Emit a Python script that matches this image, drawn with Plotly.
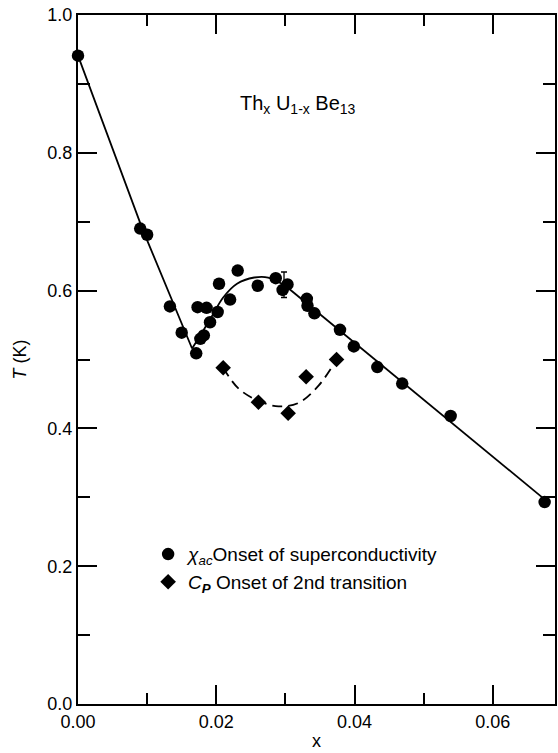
import plotly.graph_objects as go

# chi_ac onset of superconductivity (circles)
chi_x = [0.0000, 0.0090, 0.0100, 0.0133, 0.0150, 0.0171, 0.0173, 0.0186, 0.0202,
         0.0191, 0.0182, 0.0177, 0.0204, 0.0220, 0.0231, 0.0260, 0.0286, 0.0303,
         0.0296, 0.0331, 0.0332, 0.0342, 0.0379, 0.0399, 0.0433, 0.0469, 0.0539, 0.0675]
chi_T = [0.941, 0.690, 0.681, 0.577, 0.539, 0.509, 0.576, 0.575, 0.569,
         0.554, 0.535, 0.530, 0.610, 0.587, 0.629, 0.607, 0.618, 0.609,
         0.601, 0.588, 0.578, 0.567, 0.543, 0.519, 0.489, 0.465, 0.418, 0.293]

# error bar shown on one point
err_x = [0.0298]
err_T = [0.6085]
err_dT = [0.0185]

# C_P onset of 2nd transition (diamonds)
cp_x = [0.0210, 0.0261, 0.0304, 0.0330, 0.0374]
cp_T = [0.488, 0.438, 0.422, 0.475, 0.500]

# guide lines
line1_x = [0.0, 0.0093, 0.0165]
line1_T = [0.941, 0.690, 0.516]
curve_x = [0.0165, 0.0180, 0.0195, 0.0210, 0.0230, 0.0255, 0.0275, 0.0300]
curve_T = [0.516, 0.540, 0.565, 0.590, 0.610, 0.619, 0.619, 0.607]
line2_x = [0.0300, 0.0675]
line2_T = [0.607, 0.297]
dash_x = [0.0210, 0.0232, 0.0261, 0.0290, 0.0319, 0.0348, 0.0374]
dash_T = [0.488, 0.458, 0.440, 0.432, 0.437, 0.462, 0.500]

x_ticks = [0.00, 0.02, 0.04, 0.06]
x_ticklabels = ["0.00", "0.02", "0.04", "0.06"]
y_ticks = [0.0, 0.2, 0.4, 0.6, 0.8, 1.0]
y_ticklabels = ["0.0", "0.2", "0.4", "0.6", "0.8", "1.0"]

FONT = "Liberation Sans, Arial, Helvetica, sans-serif"
LW = 1.8

fig = go.Figure()
fig.add_trace(go.Scatter(x=line1_x, y=line1_T, mode="lines",
                         line=dict(color="black", width=LW), showlegend=False, hoverinfo="skip"))
fig.add_trace(go.Scatter(x=curve_x, y=curve_T, mode="lines",
                         line=dict(color="black", width=LW, shape="spline", smoothing=1.0),
                         showlegend=False, hoverinfo="skip"))
fig.add_trace(go.Scatter(x=line2_x, y=line2_T, mode="lines",
                         line=dict(color="black", width=LW), showlegend=False, hoverinfo="skip"))
fig.add_trace(go.Scatter(x=dash_x, y=dash_T, mode="lines",
                         line=dict(color="black", width=LW, dash="10px,6px", shape="spline", smoothing=1.0),
                         showlegend=False, hoverinfo="skip"))
fig.add_trace(go.Scatter(x=err_x, y=err_T, mode="lines",
                         error_y=dict(type="data", array=err_dT, color="black", thickness=1.3, width=3),
                         line=dict(color="black", width=0), showlegend=False, hoverinfo="skip"))
fig.add_trace(go.Scatter(x=chi_x, y=chi_T, mode="markers",
                         marker=dict(symbol="circle", size=12.5, color="black"),
                         cliponaxis=False,
                         name="<i>χ<sub>ac</sub></i>Onset of superconductivity"))
fig.add_trace(go.Scatter(x=cp_x, y=cp_T, mode="markers",
                         marker=dict(symbol="diamond", size=12, color="black"),
                         name="<i>C<sub><b>P</b></sub></i> Onset of 2nd transition"))

fig.add_annotation(text="Th<sub>x</sub> U<sub>1-x</sub> Be<sub>13</sub>",
                   xref="paper", yref="paper", x=0.461, y=0.891,
                   showarrow=False, font=dict(size=20, color="black", family=FONT))

axis_common = dict(showline=True, linecolor="black", linewidth=2, mirror="ticks",
                   ticks="inside", tickcolor="black", tickwidth=1.5, ticklen=19,
                   showgrid=False, zeroline=False, automargin=False,
                   tickfont=dict(size=18, color="black", family=FONT))

fig.update_xaxes(range=[0, 0.069], tickvals=x_ticks, ticktext=x_ticklabels,
                 minor=dict(ticks="inside", dtick=0.01, tick0=0, ticklen=11, tickcolor="black", tickwidth=1.5),
                 title=dict(text="x", font=dict(size=18, color="black", family=FONT), standoff=4),
                 **axis_common)
fig.update_yaxes(range=[0, 1.0], tickvals=y_ticks, ticktext=y_ticklabels,
                 minor=dict(ticks="inside", dtick=0.1, tick0=0, ticklen=12, tickcolor="black", tickwidth=1.5),
                 title=dict(text="<i>T</i> (K)", font=dict(size=18, color="black", family=FONT), standoff=16),
                 **axis_common)

fig.update_layout(width=558, height=753,
                  margin=dict(l=78, r=3, t=15, b=49),
                  paper_bgcolor="white", plot_bgcolor="white",
                  font=dict(family=FONT, color="black", size=18),
                  legend=dict(x=0.147, y=0.245, xanchor="left", yanchor="top",
                              bgcolor="rgba(0,0,0,0)", font=dict(size=19, family=FONT),
                              itemwidth=30, tracegroupgap=0))

fig.write_html("out.html", config={"displayModeBar": False},
               post_script="document.body.style.margin='0';document.body.style.overflow='hidden';")
